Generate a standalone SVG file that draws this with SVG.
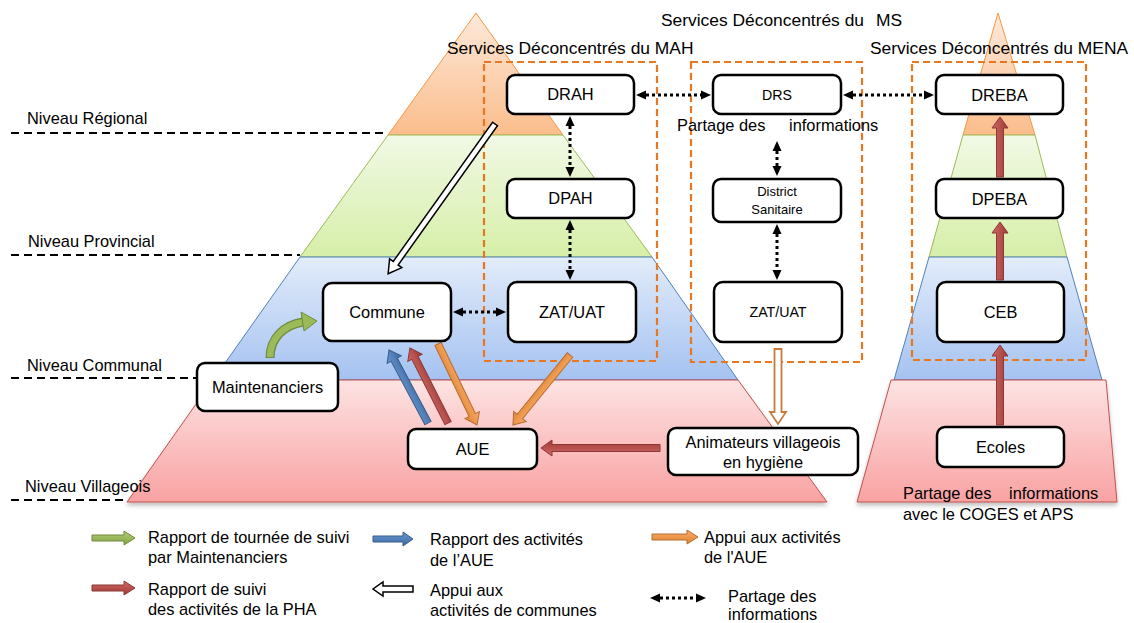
<svg xmlns="http://www.w3.org/2000/svg" width="1134" height="623" viewBox="0 0 1134 623">
  <style>
    text { font-family: "Liberation Sans", Arial, sans-serif; fill: #000; }
    .t16 { font-size: 16.4px; }
    .t17 { font-size: 17.4px; }
    .t14 { font-size: 14.2px; }
    .t13 { font-size: 13px; }
    .box { fill: #fff; stroke: #000; stroke-width: 2.5; }
    .level { stroke: #000; stroke-width: 2.2; stroke-dasharray: 8 5; fill: none; }
    .svc { fill: none; stroke: #e87722; stroke-width: 2.2; stroke-dasharray: 7 4; }
    .dot { stroke: #000; stroke-width: 3; stroke-dasharray: 3 3; fill: none; marker-start: url(#dh); marker-end: url(#dh); }
    .red { fill: url(#gRed); stroke: #8c3836; stroke-width: 1; }
    .blue { fill: url(#gBlue); stroke: #385d8a; stroke-width: 1; }
    .orange { fill: url(#gOrange); stroke: #b66d31; stroke-width: 1; }
    .green { fill: url(#gGreen); stroke: #71893f; stroke-width: 1; }
    .hollow { fill: #fff; stroke: #000; stroke-width: 1.5; }
    .hollowOr { fill: #fff; stroke: #c77a3c; stroke-width: 1.8; }
  </style>
  <defs>
    <linearGradient id="lOrange" x1="0" y1="0" x2="0" y2="1">
      <stop offset="0" stop-color="#fde9da"/><stop offset="1" stop-color="#fbbd8c"/>
    </linearGradient>
    <linearGradient id="lGreen" x1="0" y1="0" x2="0" y2="1">
      <stop offset="0" stop-color="#f1f9e5"/><stop offset="1" stop-color="#d6efa8"/>
    </linearGradient>
    <linearGradient id="lBlue" x1="0" y1="0" x2="0" y2="1">
      <stop offset="0" stop-color="#e2ecfa"/><stop offset="1" stop-color="#a5c2f1"/>
    </linearGradient>
    <linearGradient id="lPink" x1="0" y1="0" x2="0" y2="1">
      <stop offset="0" stop-color="#fde3e3"/><stop offset="1" stop-color="#f9a2a2"/>
    </linearGradient>
    <linearGradient id="gRed" x1="0" y1="0" x2="0" y2="1">
      <stop offset="0" stop-color="#cf6a66"/><stop offset="1" stop-color="#9e3936"/>
    </linearGradient>
    <linearGradient id="gBlue" x1="0" y1="0" x2="0" y2="1">
      <stop offset="0" stop-color="#6a97cf"/><stop offset="1" stop-color="#3d6aa3"/>
    </linearGradient>
    <linearGradient id="gOrange" x1="0" y1="0" x2="0" y2="1">
      <stop offset="0" stop-color="#f9ad6c"/><stop offset="1" stop-color="#e0832f"/>
    </linearGradient>
    <linearGradient id="gGreen" x1="0" y1="0" x2="0" y2="1">
      <stop offset="0" stop-color="#b0cd73"/><stop offset="1" stop-color="#86a545"/>
    </linearGradient>
    <filter id="shadow" x="-5%" y="-5%" width="110%" height="120%">
      <feDropShadow dx="0" dy="3" stdDeviation="2" flood-color="#000" flood-opacity="0.25"/>
    </filter>
    <marker id="dh" viewBox="0 0 10 10" refX="0" refY="5" markerWidth="10" markerHeight="10" markerUnits="userSpaceOnUse" orient="auto-start-reverse">
      <path d="M0,0.5 L10,5 L0,9.5 Z" fill="#000"/>
    </marker>
  </defs>

  <!-- left pyramid (MAH / MS levels) -->
  <g id="pyramid-left">
    <polygon points="476,13 563,135 388,135" fill="url(#lOrange)" stroke="#f79646" stroke-width="1"/>
    <polygon points="388,135 563,135 652,257 300,257" fill="url(#lGreen)" stroke="#9bbb59" stroke-width="1"/>
    <polygon points="300,257 652,257 738,380 213,380" fill="url(#lBlue)" stroke="#4f81bd" stroke-width="1"/>
    <polygon points="213,380 738,380 827,502 127,502" fill="url(#lPink)" stroke="#c0504d" stroke-width="1" filter="url(#shadow)"/>
  </g>

  <!-- right pyramid (MENA) -->
  <g id="pyramid-right">
    <polygon points="998,13 1035,135 963,135" fill="url(#lOrange)" stroke="#f79646" stroke-width="1"/>
    <polygon points="963,135 1035,135 1067,257 929,257" fill="url(#lGreen)" stroke="#9bbb59" stroke-width="1"/>
    <polygon points="929,257 1067,257 1102,380 894,380" fill="url(#lBlue)" stroke="#4f81bd" stroke-width="1"/>
    <polygon points="891,380 1106,380 1117,502 857,502" fill="url(#lPink)" stroke="#c0504d" stroke-width="1" filter="url(#shadow)"/>
  </g>

  <!-- administrative levels -->
  <g id="levels">
    <line class="level" x1="11" y1="133" x2="388" y2="133"/>
    <line class="level" x1="11" y1="255" x2="300" y2="255"/>
    <line class="level" x1="11" y1="378" x2="198" y2="378"/>
    <line class="level" x1="11" y1="500" x2="128" y2="500"/>
    <text class="t16" x="27" y="124">Niveau Régional</text>
    <text class="t16" x="28" y="247">Niveau Provincial</text>
    <text class="t16" x="27" y="371">Niveau Communal</text>
    <text class="t16" x="25" y="492">Niveau Villageois</text>
  </g>

  <!-- decentralised service frames -->
  <g id="services">
    <rect class="svc" x="484" y="62" width="173" height="299"/>
    <rect class="svc" x="691" y="62" width="171" height="300"/>
    <rect class="svc" x="912" y="62" width="174" height="298"/>
    <text class="t17" x="447" y="54">Services Déconcentrés du MAH</text>
    <text class="t17" x="661" y="26">Services Déconcentrés du</text>
    <text class="t17" x="876" y="26">MS</text>
    <text class="t17" x="870" y="54">Services Déconcentrés du MENA</text>
    <text class="t16" x="677" y="131">Partage des</text>
    <text class="t16" x="789" y="131">informations</text>
    <text class="t16" x="903" y="499">Partage des</text>
    <text class="t16" x="1009" y="499">informations</text>
    <text class="t16" x="903" y="520">avec le COGES et APS</text>
  </g>

  <!-- connectors -->
  <g id="connectors">
    <!-- information sharing -->
    <line class="dot" x1="646" y1="95" x2="701" y2="95"/>
    <line class="dot" x1="853" y1="95" x2="924" y2="95"/>
    <line class="dot" x1="570" y1="126" x2="570" y2="167"/>
    <line class="dot" x1="570" y1="230" x2="570" y2="270"/>
    <line class="dot" x1="463" y1="312" x2="496" y2="312"/>
    <line class="dot" x1="777" y1="151" x2="777" y2="166"/>
    <line class="dot" x1="777" y1="234" x2="777" y2="270"/>

    <!-- support to communes -->
    <g transform="translate(495,124) rotate(125.5)">
      <path class="hollow" d="M0,-3 L171,-3 L171,-7.5 L184,0 L171,7.5 L171,3 L0,3 Z"/>
    </g>

    <!-- Maintenanciers to Commune -->
    <path d="M270,358 C270,338 284,325 303,322" fill="none" stroke="#71893f" stroke-width="9"/>
    <path d="M270,357 C270,338 284,325 303,322" fill="none" stroke="#9bbb59" stroke-width="6.5"/>
    <polygon points="317,321 301,312 304,331" fill="#9bbb59" stroke="#71893f" stroke-width="1"/>

    <!-- AUE reporting to Commune -->
    <g transform="translate(428,423) rotate(-118.1)">
      <path class="blue" d="M0,-3.5 L71.8,-3.5 L71.8,-8 L82.8,0 L71.8,8 L71.8,3.5 L0,3.5 Z"/>
    </g>
    <g transform="translate(448,423) rotate(-116.9)">
      <path class="red" d="M0,-3.5 L73.1,-3.5 L73.1,-8 L84.1,0 L73.1,8 L73.1,3.5 L0,3.5 Z"/>
    </g>

    <!-- support to AUE -->
    <g transform="translate(438,344) rotate(64.3)">
      <path class="orange" d="M0,-3.5 L78.9,-3.5 L78.9,-8 L89.9,0 L78.9,8 L78.9,3.5 L0,3.5 Z"/>
    </g>
    <g transform="translate(570,355) rotate(129.2)">
      <path class="orange" d="M0,-3.5 L79.3,-3.5 L79.3,-8 L90.3,0 L79.3,8 L79.3,3.5 L0,3.5 Z"/>
    </g>

    <!-- Animateurs to AUE -->
    <g transform="translate(660,448) rotate(180)">
      <path class="red" d="M0,-3.5 L108,-3.5 L108,-8 L119,0 L108,8 L108,3.5 L0,3.5 Z"/>
    </g>

    <!-- ZAT/UAT (MS) to Animateurs -->
    <g transform="translate(778,349) rotate(90)">
      <path class="hollowOr" d="M0,-3.5 L63,-3.5 L63,-8 L75,0 L63,8 L63,3.5 L0,3.5 Z"/>
    </g>

    <!-- MENA reporting chain -->
    <g transform="translate(1000,425) rotate(-90)">
      <path class="red" d="M0,-3.5 L69,-3.5 L69,-8 L80,0 L69,8 L69,3.5 L0,3.5 Z"/>
    </g>
    <g transform="translate(1000,280) rotate(-90)">
      <path class="red" d="M0,-3.5 L47,-3.5 L47,-8 L58,0 L47,8 L47,3.5 L0,3.5 Z"/>
    </g>
    <g transform="translate(1000,177) rotate(-90)">
      <path class="red" d="M0,-3.5 L49,-3.5 L49,-8 L60,0 L49,8 L49,3.5 L0,3.5 Z"/>
    </g>
  </g>

  <!-- nodes -->
  <g id="node-drah"><rect class="box" x="507" y="75" width="127" height="39" rx="8"/><text class="t16" x="570.5" y="100" text-anchor="middle">DRAH</text></g>
  <g id="node-dpah"><rect class="box" x="507" y="179" width="127" height="39" rx="8"/><text class="t16" x="570.5" y="204" text-anchor="middle">DPAH</text></g>
  <g id="node-zat-mah"><rect class="box" x="508" y="282" width="128" height="60" rx="9"/><text class="t16" x="572" y="318" text-anchor="middle">ZAT/UAT</text></g>
  <g id="node-commune"><rect class="box" x="323" y="283" width="128" height="58" rx="9"/><text class="t16" x="387" y="318" text-anchor="middle">Commune</text></g>
  <g id="node-drs"><rect class="box" x="713" y="75" width="128" height="39" rx="8"/><text class="t14" x="777" y="100" text-anchor="middle">DRS</text></g>
  <g id="node-district"><rect class="box" x="713" y="179" width="128" height="43" rx="8"/><text class="t13" x="777" y="196" text-anchor="middle">District</text><text class="t13" x="777" y="214" text-anchor="middle">Sanitaire</text></g>
  <g id="node-zat-ms"><rect class="box" x="714" y="282" width="128" height="60" rx="9"/><text class="t14" x="778" y="317" text-anchor="middle">ZAT/UAT</text></g>
  <g id="node-dreba"><rect class="box" x="936" y="75" width="127" height="39" rx="8"/><text class="t16" x="999.5" y="101" text-anchor="middle">DREBA</text></g>
  <g id="node-dpeba"><rect class="box" x="936" y="179" width="127" height="39" rx="8"/><text class="t16" x="999.5" y="205" text-anchor="middle">DPEBA</text></g>
  <g id="node-ceb"><rect class="box" x="937" y="282" width="127" height="60" rx="9"/><text class="t16" x="1000.5" y="318" text-anchor="middle">CEB</text></g>
  <g id="node-ecoles"><rect class="box" x="937" y="427" width="127" height="40" rx="8"/><text class="t16" x="1000.5" y="453" text-anchor="middle">Ecoles</text></g>
  <g id="node-maintenanciers"><rect class="box" x="197" y="363" width="141" height="48" rx="8"/><text class="t16" x="267.5" y="393" text-anchor="middle">Maintenanciers</text></g>
  <g id="node-aue"><rect class="box" x="408" y="429" width="129" height="40" rx="8"/><text class="t16" x="472.5" y="455" text-anchor="middle">AUE</text></g>
  <g id="node-animateurs"><rect class="box" x="668" y="428" width="190" height="47" rx="8"/><text class="t16" x="763" y="448" text-anchor="middle">Animateurs villageois</text><text class="t16" x="763" y="468" text-anchor="middle">en hygiène</text></g>

  <!-- legend -->
  <g id="legend">
    <g transform="translate(92,538)"><path class="green" d="M0,-3 L32,-3 L32,-7 L43,0 L32,7 L32,3 L0,3 Z"/></g>
    <text class="t16" x="148" y="543">Rapport de tournée de suivi</text>
    <text class="t16" x="148" y="563">par Maintenanciers</text>

    <g transform="translate(373,539)"><path class="blue" d="M0,-3 L30,-3 L30,-7 L40,0 L30,7 L30,3 L0,3 Z"/></g>
    <text class="t16" x="430" y="545">Rapport des activités</text>
    <text class="t16" x="430" y="566">de l’AUE</text>

    <g transform="translate(652,537)"><path class="orange" d="M0,-3 L35,-3 L35,-7 L46,0 L35,7 L35,3 L0,3 Z"/></g>
    <text class="t16" x="704" y="543">Appui aux activités</text>
    <text class="t16" x="704" y="563">de l'AUE</text>

    <g transform="translate(92,588)"><path class="red" d="M0,-3 L32,-3 L32,-7 L43,0 L32,7 L32,3 L0,3 Z"/></g>
    <text class="t16" x="148" y="595">Rapport de suivi</text>
    <text class="t16" x="148" y="615">des activités de la PHA</text>

    <g transform="translate(413,589) rotate(180)"><path class="hollow" d="M0,-3 L30,-3 L30,-7 L40,0 L30,7 L30,3 L0,3 Z"/></g>
    <text class="t16" x="430" y="596">Appui aux</text>
    <text class="t16" x="430" y="616">activités de communes</text>

    <line class="dot" x1="660" y1="598" x2="696" y2="598"/>
    <text class="t16" x="728" y="602">Partage des</text>
    <text class="t16" x="728" y="620">informations</text>
  </g>
</svg>
